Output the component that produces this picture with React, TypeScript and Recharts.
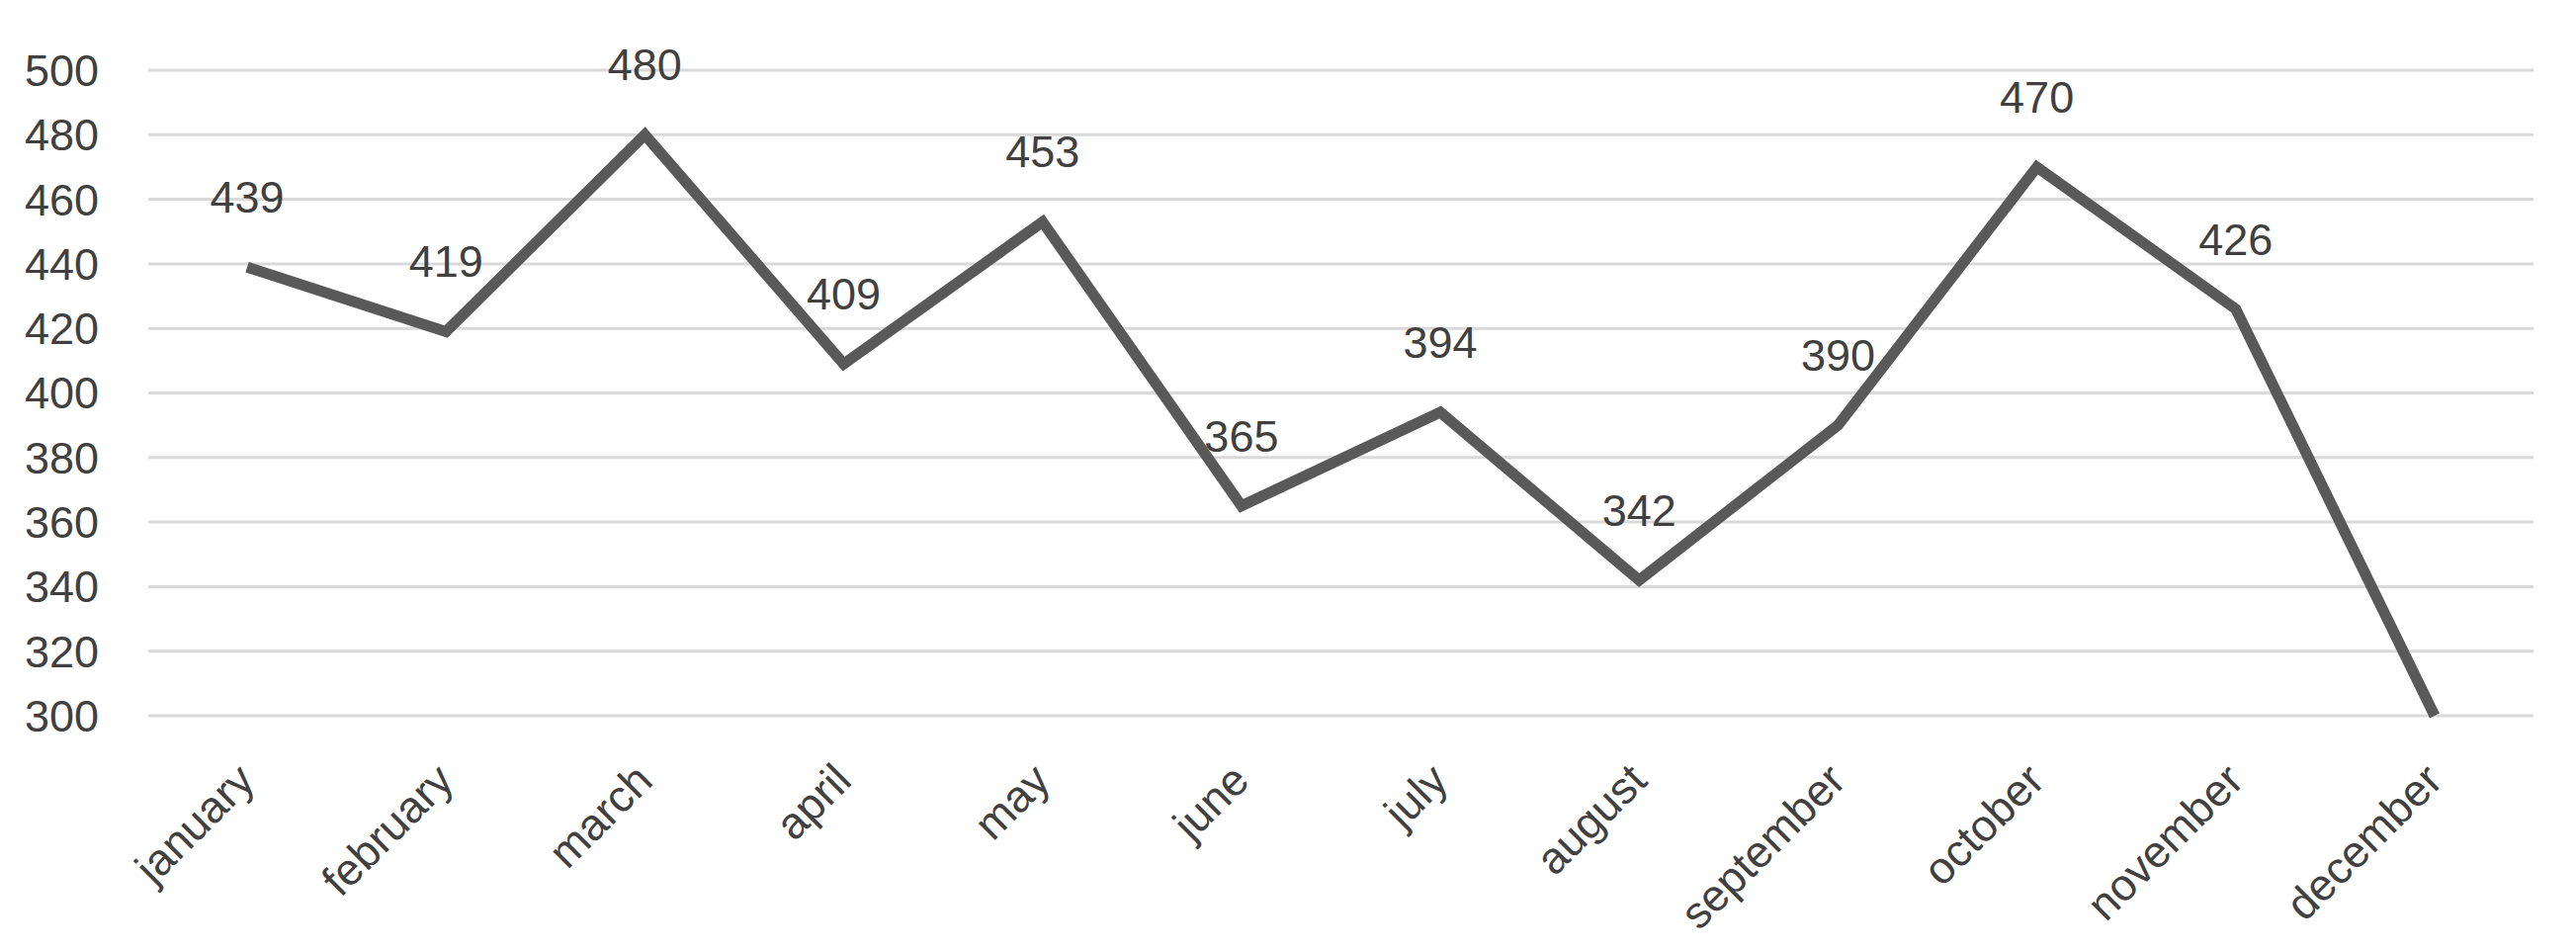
import { LineChart, Line, XAxis, YAxis, CartesianGrid, LabelList } from 'recharts';

const months = [
  'january', 'february', 'march', 'april', 'may', 'june',
  'july', 'august', 'september', 'october', 'november', 'december',
];
const values = [439, 419, 480, 409, 453, 365, 394, 342, 390, 470, 426, 300];
const yTicks = [300, 320, 340, 360, 380, 400, 420, 440, 460, 480, 500];

const data = months.map((m, i) => ({ month: m, value: values[i] }));

const FONT = '"Liberation Sans", Arial, sans-serif';
const TEXT = '#404040';

const MonthTick = ({ x, y, payload }: any) => (
  <text
    x={x + 10}
    y={y + 60}
    transform={`rotate(-45, ${x + 10}, ${y + 60})`}
    textAnchor="end"
    fontSize={45}
    fontFamily={FONT}
    fill={TEXT}
  >
    {payload.value}
  </text>
);

const ValueLabel = ({ x, y, value }: any) => {
  // the bottom point sits on the axis floor and has no label
  if (value <= yTicks[0]) return null;
  return (
    <text x={x} y={y - 55} textAnchor="middle" fontSize={45} fontFamily={FONT} fill={TEXT}>
      {value}
    </text>
  );
};

export default function App() {
  return (
    <div style={{ width: 2590, height: 940, background: '#fff' }}>
      <LineChart
        width={2590}
        height={940}
        data={data}
        margin={{ top: 63, right: 35, left: 0, bottom: 0 }}
      >
        <CartesianGrid vertical={false} stroke="#d9d9d9" strokeWidth={3} />
        <XAxis
          dataKey="month"
          axisLine={false}
          tickLine={false}
          padding={{ left: 100, right: 100 }}
          height={224}
          interval={0}
          tick={<MonthTick />}
        />
        <YAxis
          domain={[300, 500]}
          ticks={yTicks}
          axisLine={false}
          tickLine={false}
          width={142}
          tickSize={6}
          tickMargin={44}
          tick={{ fontSize: 45, fontFamily: FONT, fill: TEXT }}
        />
        <Line
          type="linear"
          dataKey="value"
          stroke="#595959"
          strokeWidth={11}
          dot={false}
          activeDot={false}
          isAnimationActive={false}
        >
          <LabelList dataKey="value" content={<ValueLabel />} />
        </Line>
      </LineChart>
    </div>
  );
}
